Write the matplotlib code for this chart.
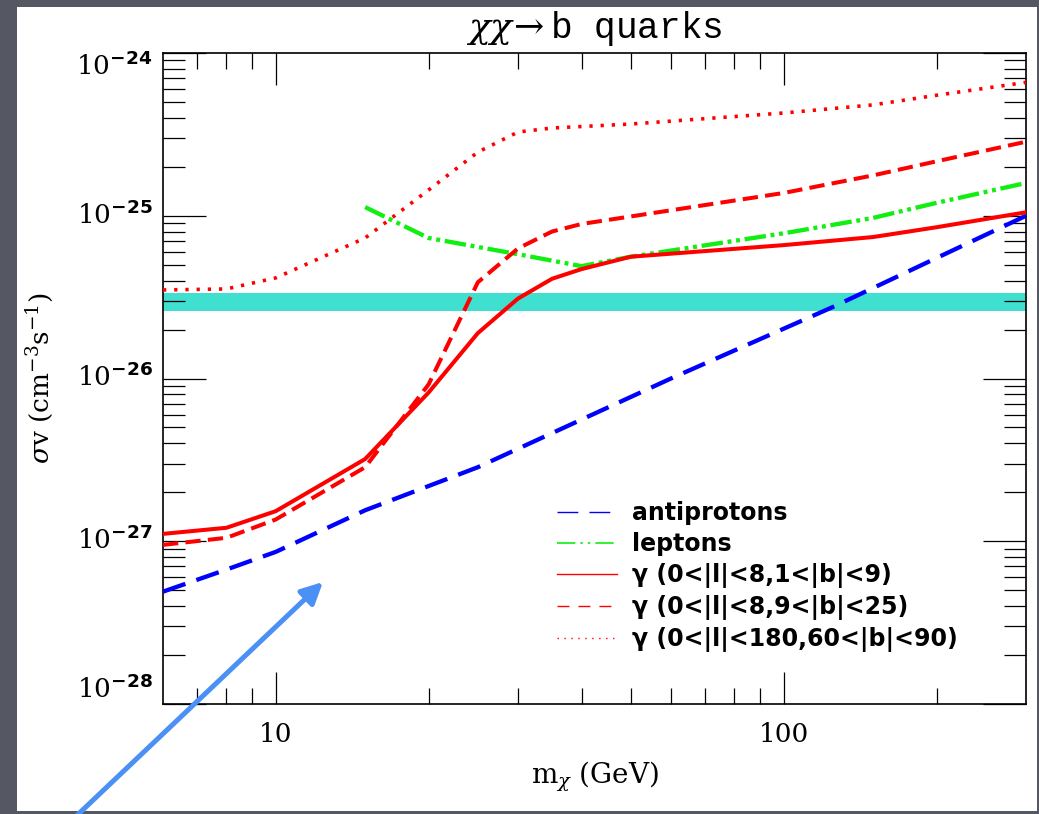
import numpy as np
import matplotlib
matplotlib.use("Agg")
import matplotlib.pyplot as plt
from matplotlib.lines import Line2D
from matplotlib.patches import Rectangle, FancyArrowPatch
from matplotlib.ticker import FixedLocator, LogLocator, NullFormatter

plt.rcParams["mathtext.fontset"] = "custom"
plt.rcParams["mathtext.rm"] = "DejaVu Serif"
plt.rcParams["mathtext.it"] = "DejaVu Serif:italic"
plt.rcParams["mathtext.bf"] = "DejaVu Sans:bold"

# ---- data (mass in GeV, sigma v in cm^3 s^-1) ----
pbar_mass = [6, 8, 10, 15, 25, 60, 125, 300]
pbar_sv = [4.9e-28, 6.7e-28, 8.6e-28, 1.55e-27, 2.85e-27, 1.0e-26, 2.75e-26, 1.0e-25]

lep_mass = [15, 20, 30, 40, 50, 100, 150, 200, 300]
lep_sv = [1.13e-25, 7.3e-26, 5.8e-26, 4.9e-26, 5.6e-26, 7.8e-26, 9.7e-26, 1.2e-25, 1.59e-25]

gam_mass = [6, 8, 10, 15, 20, 25, 30, 35, 40, 50, 100, 150, 200, 300]
gam_b1_9 = [1.11e-27, 1.21e-27, 1.53e-27, 3.2e-27, 8.2e-27, 1.9e-26, 3.1e-26,
            4.1e-26, 4.7e-26, 5.6e-26, 6.6e-26, 7.4e-26, 8.5e-26, 1.05e-25]
gam_b9_25 = [9.5e-28, 1.05e-27, 1.36e-27, 2.85e-27, 9.2e-27, 3.9e-26, 6.3e-26,
             8.0e-26, 8.9e-26, 9.9e-26, 1.38e-25, 1.77e-25, 2.16e-25, 2.85e-25]

hl_mass = [6, 8, 10, 15, 20, 25, 30, 35, 50, 100, 150, 200, 300]
gam_b60_90 = [3.5e-26, 3.55e-26, 4.15e-26, 7.3e-26, 1.44e-25, 2.46e-25, 3.27e-25,
              3.46e-25, 3.66e-25, 4.28e-25, 4.8e-25, 5.5e-25, 6.6e-25]

thermal_band = [2.6e-26, 3.35e-26]

labels = ["antiprotons", "leptons",
          "γ (0<|l|<8,1<|b|<9)",
          "γ (0<|l|<8,9<|b|<25)",
          "γ (0<|l|<180,60<|b|<90)"]

x_major = [10, 100]
x_minor = [7, 8, 9, 20, 30, 40, 50, 60, 70, 80, 90, 200]
y_major = [1e-28, 1e-27, 1e-26, 1e-25, 1e-24]
y_major_labels = [r"$10^{\mathbf{-28}}$", r"$10^{\mathbf{-27}}$", r"$10^{\mathbf{-26}}$",
                  r"$10^{\mathbf{-25}}$", r"$10^{\mathbf{-24}}$"]

BLUE = "#0000ff"
GREEN = "#11ee11"
RED = "#ff0000"
CYAN = "#40e0d0"
ARROW = "#4a90f5"

W, H = 1039, 814
fig = plt.figure(figsize=(W / 100, H / 100), dpi=100, facecolor="#555862")
fig.add_artist(Rectangle((17 / W, 3 / H), (1037 - 17) / W, (811 - 7) / H,
                         transform=fig.transFigure, facecolor="white",
                         edgecolor="none", zorder=0))

ax = fig.add_axes([163 / W, 110 / H, 863 / W, 651 / H])
ax.set_xscale("log")
ax.set_yscale("log")
ax.set_xlim(6, 300)
ax.set_ylim(1e-28, 1e-24)

ax.axhspan(thermal_band[0], thermal_band[1], color=CYAN, lw=0, zorder=1)

ax.plot(pbar_mass, pbar_sv, color=BLUE, lw=3.1, linestyle=(0, (5.5, 2.7)), zorder=3)
ax.plot(lep_mass, lep_sv, color=GREEN, lw=3.1,
        linestyle=(0, (5, 1.1, 0.9, 1.1, 0.9, 1.1)), zorder=3)
ax.plot(gam_mass, gam_b1_9, color=RED, lw=2.9, zorder=3)
ax.plot(gam_mass, gam_b9_25, color=RED, lw=2.9, linestyle=(0, (3.8, 1.8)), zorder=3)
ax.plot(hl_mass, gam_b60_90, color=RED, lw=2.6, linestyle=(0, (0.9, 2.2)), zorder=3)

# ticks
ax.xaxis.set_major_locator(FixedLocator(x_major))
ax.xaxis.set_minor_locator(FixedLocator(x_minor))
ax.xaxis.set_minor_formatter(NullFormatter())
ax.set_xticklabels([str(v) for v in x_major])
ax.yaxis.set_major_locator(FixedLocator(y_major))
ax.yaxis.set_minor_locator(LogLocator(base=10, subs=range(2, 10), numticks=20))
ax.yaxis.set_minor_formatter(NullFormatter())
ax.set_yticklabels([])

ax.tick_params(axis="both", which="both", direction="in", top=True, right=True,
               width=0.9, color="black")
ax.tick_params(axis="x", which="major", length=23, pad=13, labelsize=19)
ax.tick_params(axis="x", which="minor", length=11.5)
ax.tick_params(axis="y", which="major", length=31)
ax.tick_params(axis="y", which="minor", length=15.5)
for lab in ax.get_xticklabels():
    lab.set_fontfamily("DejaVu Serif")
for sp in ax.spines.values():
    sp.set_linewidth(1.2)

ytrans = ax.get_yaxis_transform()
for i, (yv, txt) in enumerate(zip(y_major, y_major_labels)):
    va = "bottom" if i == 0 else ("top" if i == len(y_major) - 1 else "center")
    ax.text(-0.012, yv, txt, transform=ytrans, ha="right", va=va,
            fontsize=19, clip_on=False)

ax.set_xlabel(r"m$_{\chi}$ (GeV)", fontsize=20, fontfamily="DejaVu Serif")
ax.xaxis.set_label_coords(0.5, -0.086)
ax.set_ylabel(r"$\sigma$v (cm$^{-3}$s$^{-1}$)", fontsize=19, fontfamily="DejaVu Serif")
ax.yaxis.set_label_coords(-0.125, 0.5)
ax.set_title(r"$\chi\chi\!\rightarrow$b quarks", fontsize=26,
             fontfamily="Liberation Mono", pad=11)

handles = [
    Line2D([], [], color=BLUE, lw=1.0, linestyle=(0, (15, 8))),
    Line2D([], [], color=GREEN, lw=1.2, linestyle=(0, (11, 3, 1.5, 3, 1.5, 3))),
    Line2D([], [], color=RED, lw=1.0),
    Line2D([], [], color=RED, lw=1.0, linestyle=(0, (8.6, 6.5))),
    Line2D([], [], color=RED, lw=1.0, linestyle=(0, (1, 4))),
]
leg = ax.legend(handles, labels, loc="upper left", bbox_to_anchor=(0.4565, 0.312),
                frameon=False, borderpad=0, borderaxespad=0, handlelength=2.55,
                handletextpad=0.62, labelspacing=0.3,
                prop={"family": "DejaVu Sans", "weight": "bold", "size": 17})

arrow = FancyArrowPatch((70 / W, -8 / H), (323 / W, 232 / H),
                        transform=fig.transFigure, arrowstyle="-|>",
                        mutation_scale=32, lw=3.6, color=ARROW, zorder=10,
                        shrinkA=0, shrinkB=0)
fig.add_artist(arrow)

fig.savefig("out.png", dpi=100, facecolor=fig.get_facecolor())
